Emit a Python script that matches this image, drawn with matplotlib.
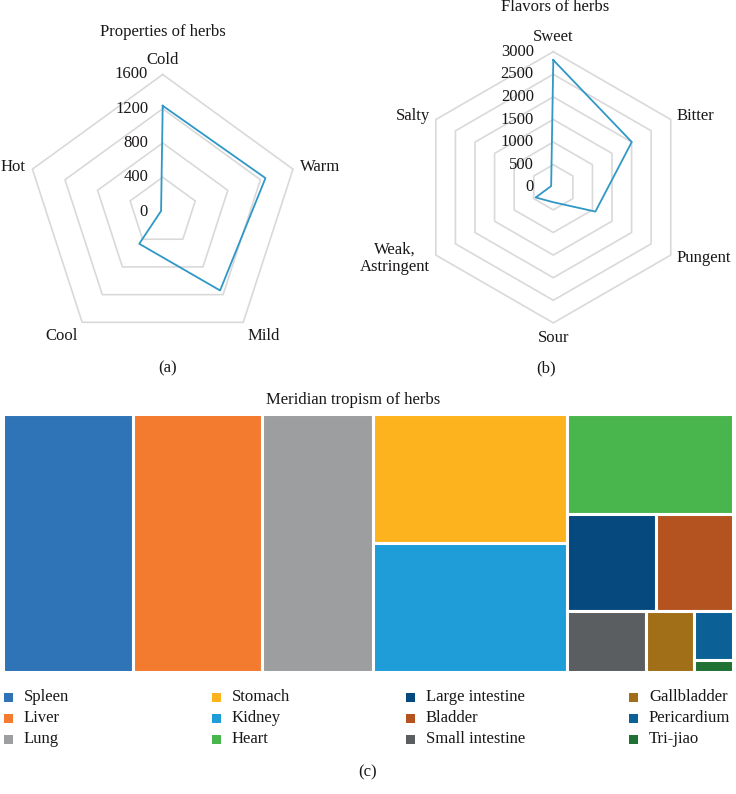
import numpy as np
import matplotlib
matplotlib.use('Agg')
import matplotlib.pyplot as plt
from matplotlib.patches import Rectangle

plt.rcParams['font.family'] = ['Liberation Serif', 'DejaVu Serif']

# data
properties = ['Cold', 'Warm', 'Mild', 'Cool', 'Hot']
property_counts = [1235, 1262, 1140, 466, 20]
property_ticks = [0, 400, 800, 1200, 1600]

flavors = ['Sweet', 'Bitter', 'Pungent', 'Sour', 'Weak,\nAstringent', 'Salty']
flavor_counts = [2815, 2005, 1075, 330, 450, 55]
flavor_ticks = [0, 500, 1000, 1500, 2000, 2500, 3000]

meridians = ['Spleen', 'Liver', 'Lung', 'Stomach', 'Kidney', 'Heart',
             'Large intestine', 'Bladder', 'Small intestine', 'Gallbladder',
             'Pericardium', 'Tri-jiao']
meridian_counts = [1960, 1933, 1653, 1461, 1457, 968, 495, 435, 278, 169, 111, 27]
meridian_colors = ['#2E74B7', '#F27B2F', '#9D9E9F', '#FDB31E', '#1E9DD8', '#49B54D',
                   '#05497E', '#B4531F', '#5B5E61', '#A06F17', '#0B6096', '#1F7134']

W, H = 736, 794
fig = plt.figure(figsize=(W / 100, H / 100), dpi=100)
TXT = '#1A1718'
FS = 12


def px_axes(x0, y0, w, h):
    return fig.add_axes([x0 / W, 1 - (y0 + h) / H, w / W, h / H])


def radar(cx, cy, R, labels, values, ticks, pad):
    rmax = ticks[-1]
    ax = px_axes(cx - R, cy - R, 2 * R, 2 * R)
    ax.set_xlim(-rmax, rmax)
    ax.set_ylim(-rmax, rmax)
    ax.axis('off')
    n = len(labels)
    ang = np.arange(n + 1) * 2 * np.pi / n
    for t in ticks[1:]:
        ax.plot(t * np.sin(ang), t * np.cos(ang), color='#D9D9D9', lw=1.2,
                clip_on=False, zorder=1)
    v = np.r_[values, values[0]]
    ax.plot(v * np.sin(ang), v * np.cos(ang), color='#2F98C6', lw=1.3,
            clip_on=False, zorder=3)
    for t in ticks:
        ax.annotate(str(t), (0, t), xytext=(-pad, 0), textcoords='offset points',
                    ha='right', va='center', fontsize=FS, color=TXT)
    for lab, a in zip(labels, ang[:-1]):
        s, c = np.sin(a), np.cos(a)
        ha = 'left' if s > 0.1 else ('right' if s < -0.1 else 'center')
        va = 'bottom' if c > 0.9 else ('top' if c < -0.7 else 'center')
        r = rmax * 1.05
        ax.text(r * s, r * c, lab, ha=ha, va=va, fontsize=FS, color=TXT,
                multialignment='center', linespacing=1.1)
    return ax


radar(162.7, 211.5, 137, properties, property_counts, property_ticks, 10.5)
radar(553.3, 187.3, 135.6, flavors, flavor_counts, flavor_ticks, 14)

# treemap as nested slices
layout = ('h', ['Spleen', 'Liver', 'Lung', ('v', ['Stomach', 'Kidney']),
                ('v', ['Heart', ('h', ['Large intestine', 'Bladder']),
                       ('h', ['Small intestine', 'Gallbladder',
                              ('v', ['Pericardium', 'Tri-jiao'])])])])
count_of = dict(zip(meridians, meridian_counts))
color_of = dict(zip(meridians, meridian_colors))


def total(node):
    if isinstance(node, str):
        return count_of[node]
    return sum(total(c) for c in node[1])


def draw(ax, node, x, y, w, h):
    if isinstance(node, str):
        ax.add_patch(Rectangle((x, y), w, h, facecolor=color_of[node],
                               edgecolor='white', lw=2.2))
        return
    d, kids = node
    tot = total(node)
    for k in kids:
        f = total(k) / tot
        if d == 'h':
            draw(ax, k, x, y, w * f, h)
            x += w * f
        else:
            draw(ax, k, x, y, w, h * f)
            y += h * f


tm = px_axes(2.5, 413.5, 730.7, 258.7)
tm.set_xlim(0, 1)
tm.set_ylim(1, 0)
tm.axis('off')
draw(tm, layout, 0, 0, 1, 1)

# text and legend on a pixel overlay
ov = fig.add_axes([0, 0, 1, 1], zorder=-1)
ov.set_xlim(0, W)
ov.set_ylim(H, 0)
ov.axis('off')
ov.text(163, 32, 'Properties of herbs', ha='center', va='center', fontsize=FS, color=TXT)
ov.text(555, 7, 'Flavors of herbs', ha='center', va='center', fontsize=FS, color=TXT)
ov.text(168, 368, '(a)', ha='center', va='center', fontsize=FS, color=TXT)
ov.text(546, 368, '(b)', ha='center', va='center', fontsize=FS, color=TXT)
ov.text(353, 400, 'Meridian tropism of herbs', ha='center', va='center', fontsize=FS, color=TXT)
ov.text(368, 772, '(c)', ha='center', va='center', fontsize=FS, color=TXT)

col_x = [4, 212, 406, 629]
row_y = [697, 718, 739]
for i, (name, col) in enumerate(zip(meridians, meridian_colors)):
    cx = col_x[i // 3]
    cy = row_y[i % 3]
    ov.add_patch(Rectangle((cx, cy - 4.5), 9, 9, facecolor=col, edgecolor='none'))
    ov.text(cx + 20, cy, name, ha='left', va='center', fontsize=FS, color=TXT)

fig.savefig('out.png', dpi=100)
